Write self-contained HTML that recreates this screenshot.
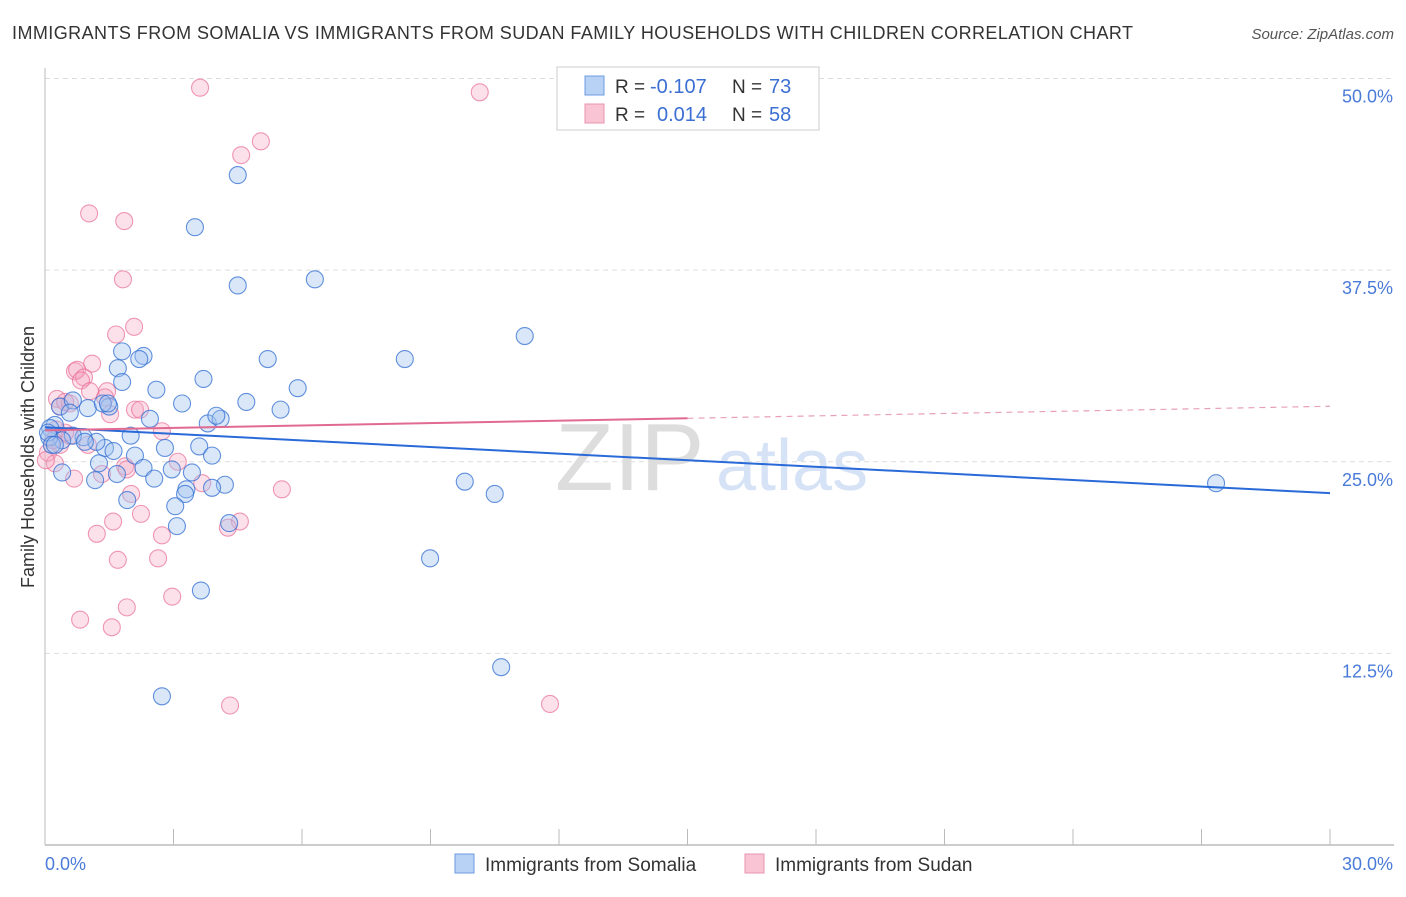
<!DOCTYPE html>
<html><head><meta charset="utf-8"><style>
body{margin:0;background:#fff;font-family:"Liberation Sans",sans-serif;}
svg text{font-family:"Liberation Sans",sans-serif;}
</style></head><body>
<svg id="chart" width="1406" height="892" xmlns="http://www.w3.org/2000/svg">
<text x="12" y="39" font-size="18" fill="#333" textLength="1121">IMMIGRANTS FROM SOMALIA VS IMMIGRANTS FROM SUDAN FAMILY HOUSEHOLDS WITH CHILDREN CORRELATION CHART</text>
<text x="1394" y="39" font-size="15" fill="#555" font-style="italic" text-anchor="end">Source: ZipAtlas.com</text>
<text x="34" y="457" font-size="18" fill="#333" text-anchor="middle" transform="rotate(-90 34 457)">Family Households with Children</text>
<text x="555" y="490" font-size="96" fill="#ddd" font-family="Liberation Serif">ZIP</text>
<text x="716" y="490" font-size="72" fill="#d6e2f5">atlas</text>
<g id="grid"></g><g id="axes"></g><g id="pts"></g><g id="lines"></g>
<g>
<rect x="557" y="67" width="262" height="63" fill="#fff" stroke="#ccc"/>
<rect x="585" y="76" width="19" height="19" fill="#b7d2f5" stroke="#6b9be0"/>
<rect x="585" y="104" width="19" height="19" fill="#f9c5d5" stroke="#e895b0"/>
<text x="615" y="93" font-size="19" fill="#333">R =</text>
<text x="650" y="93" font-size="20" fill="#3b6fd4">-0.107</text>
<text x="732" y="93" font-size="19" fill="#333">N =</text>
<text x="769" y="93" font-size="20" fill="#3b6fd4">73</text>
<text x="615" y="121" font-size="19" fill="#333">R =</text>
<text x="657" y="121" font-size="20" fill="#3b6fd4">0.014</text>
<text x="732" y="121" font-size="19" fill="#333">N =</text>
<text x="769" y="121" font-size="20" fill="#3b6fd4">58</text>
</g>
<rect x="455" y="854" width="19" height="19" fill="#b7d2f5" stroke="#6b9be0"/>
<text x="485" y="871" font-size="19" fill="#333">Immigrants from Somalia</text>
<rect x="745" y="854" width="19" height="19" fill="#f9c5d5" stroke="#e895b0"/>
<text x="775" y="871" font-size="19" fill="#333">Immigrants from Sudan</text>
</svg>
<script>
const yTicks=[12.5,25,37.5,50];
const yTickLabels=["12.5%","25.0%","37.5%","50.0%"];
const xTickLabels=["0.0%","30.0%"];
const somaliaX=[4.5,3.5,4.5,6.3,11.2,8.4,5.2,2.3,1.7,1.8,2.2,2.6,1.8,3.7,5.9,3.2,4.7,5.5,1.5,0.35,0.65,1.0,1.35,2.45,3.8,4.1,4.0,2.8,3.6,2.0,1.4,1.6,0.9,1.2,0.65,0.23,0.12,0.4,2.1,1.26,3.9,2.3,2.96,3.43,2.55,1.68,1.17,0.4,9.8,10.5,4.2,3.9,3.3,3.27,1.92,3.04,3.08,4.3,8.99,3.64,10.65,2.73,27.34,0.1,0.07,0.16,0.58,1.47,0.93,0.23];
const somaliaY=[43.7,40.3,36.5,36.9,33.2,31.7,31.7,31.9,31.1,32.2,31.7,29.7,30.2,30.4,29.8,28.8,28.9,28.4,28.6,28.6,29.0,28.5,28.8,27.8,27.5,27.8,28.0,25.9,26.0,26.7,25.9,25.7,26.6,26.3,26.7,27.4,27.2,26.4,25.4,24.9,25.4,24.6,24.5,24.3,23.9,24.2,23.8,24.3,23.7,22.9,23.5,23.3,23.2,22.9,22.5,22.1,20.8,21.0,18.7,16.6,11.6,9.7,23.6,26.6,26.9,26.1,28.2,28.8,26.3,26.1];
const sudanX=[3.62,10.15,5.04,4.58,1.03,1.85,1.82,2.08,1.66,1.1,0.7,0.75,0.91,0.84,1.45,1.4,2.1,1.52,0.28,0.35,0.58,2.73,3.1,1.0,0.07,0.23,0.35,0.58,0.47,0.19,1.87,1.91,1.33,0.68,2.01,5.53,3.67,4.55,4.27,2.24,1.59,1.21,2.73,2.64,1.7,2.97,1.91,0.82,1.56,4.32,11.79,0.02,0.26,1.05,2.22,0.47];
const sudanY=[49.4,49.1,45.9,45.0,41.2,40.7,36.9,33.8,33.3,31.4,30.9,31.0,30.5,30.3,29.6,29.2,28.4,28.1,29.1,28.6,28.8,26.99,25.0,26.1,25.6,24.9,26.1,26.7,26.9,26.4,24.7,24.5,24.2,23.9,22.9,23.2,23.6,21.1,20.7,21.6,21.1,20.3,20.2,18.7,18.6,16.2,15.5,14.7,14.2,9.1,9.2,25.1,27.1,29.6,28.4,28.9];
const somaliaTrend=[27.25,22.95];
const sudanTrend=[27.05,28.62];
const X0=45,X1=1330,Y0=845,PXY=15.33;
const xs=v=>X0+(v/30)*(X1-X0);
const ys=v=>Y0-v*PXY;
const NS="http://www.w3.org/2000/svg";
function mk(t,a,p){const e=document.createElementNS(NS,t);for(const k in a)e.setAttribute(k,a[k]);p.appendChild(e);return e;}
const grid=document.getElementById('grid'),axes=document.getElementById('axes'),pts=document.getElementById('pts'),lines=document.getElementById('lines');
yTicks.forEach((v,i)=>{
 const l=mk('line',{x1:X0,x2:1394,y1:ys(v),y2:ys(v),stroke:'#ddd','stroke-dasharray':'5,4'},grid);
 
 
 const t=mk('text',{x:1393,y:ys(v)+24,'font-size':18,fill:'#4a7bd8','text-anchor':'end'},axes);
 t.textContent=yTickLabels[i];
 
 
});
const ax=mk('line',{x1:X0,x2:1394,y1:Y0,y2:Y0,stroke:'#bbb','stroke-width':1.5},axes);


const ay=mk('line',{x1:X0,x2:X0,y1:68,y2:Y0,stroke:'#bbb'},axes);


for(let i=1;i<=10;i++){
 const tk=mk('line',{x1:xs(i*3),x2:xs(i*3),y1:Y0-16,y2:Y0,stroke:'#bbb'},axes);
 
 
}
const xl0=mk('text',{x:X0,y:870,'font-size':18,fill:'#4a7bd8'},axes);
xl0.textContent=xTickLabels[0];


const xl1=mk('text',{x:1393,y:870,'font-size':18,fill:'#4a7bd8','text-anchor':'end'},axes);
xl1.textContent=xTickLabels[1];


sudanX.forEach((x,i)=>{
 const c=mk('circle',{cx:xs(x),cy:ys(sudanY[i]),r:8.5,fill:'rgba(246,170,195,0.35)',stroke:'rgba(232,110,150,0.7)','stroke-width':1.1},pts);
 
 
});
somaliaX.forEach((x,i)=>{
 const c=mk('circle',{cx:xs(x),cy:ys(somaliaY[i]),r:8.5,fill:'rgba(160,195,240,0.4)',stroke:'rgba(50,110,210,0.75)','stroke-width':1.1},pts);
 
 
});
const bl=mk('line',{x1:xs(0),y1:ys(somaliaTrend[0]),x2:xs(30),y2:ys(somaliaTrend[1]),stroke:'#2a6ad8','stroke-width':2},lines);


const sm=sudanTrend[0]+(sudanTrend[1]-sudanTrend[0])*0.5;
const pl=mk('line',{x1:xs(0),y1:ys(sudanTrend[0]),x2:xs(15),y2:ys(sm),stroke:'#e06a92','stroke-width':2},lines);


const pd=mk('line',{x1:xs(15),y1:ys(sm),x2:xs(30),y2:ys(sudanTrend[1]),stroke:'#e8a0b8','stroke-width':1.2,'stroke-dasharray':'6,5'},lines);


</script>
</body></html>
